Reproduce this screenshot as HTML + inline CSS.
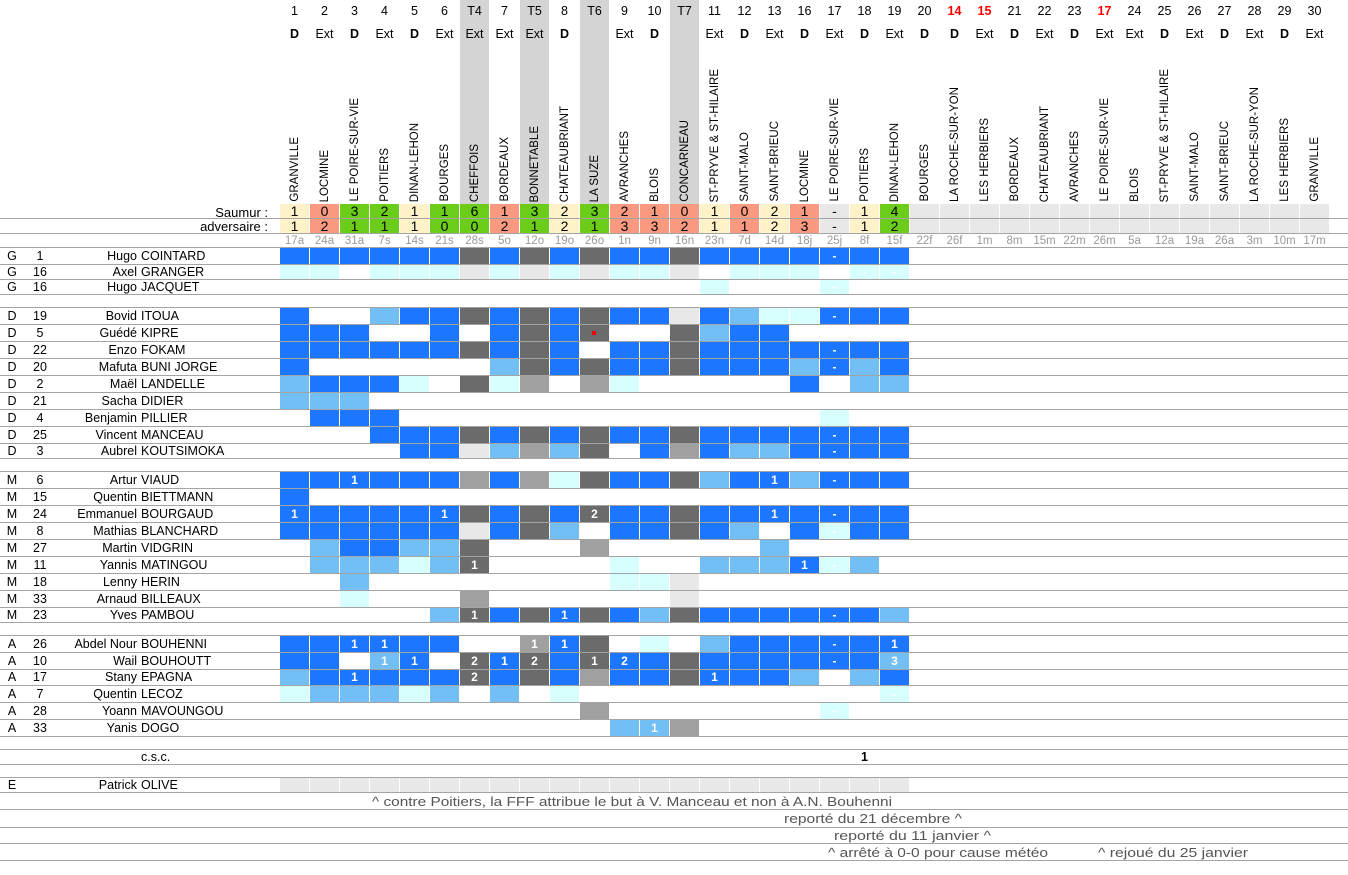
<!DOCTYPE html>
<html><head><meta charset="utf-8">
<style>
html,body{margin:0;padding:0;background:#fff;}
body{width:1348px;height:875px;position:relative;overflow:hidden;font-family:"Liberation Sans",Arial,sans-serif;font-size:12px;color:#000;}
.a{position:absolute;}
.hl{position:absolute;left:0;width:1348px;height:1px;background:#a4a4a4;}
.c{position:absolute;width:29px;text-align:center;color:#fff;font-weight:bold;font-size:12px;}
.v{position:absolute;writing-mode:vertical-rl;transform:rotate(180deg);white-space:nowrap;font-size:11.5px;line-height:12px;}
</style></head><body>
<script>
(function(){
var root=document.body;
function el(cls,css,txt){var d=document.createElement('div');d.className=cls;d.style.cssText=css;if(txt!==undefined)d.textContent=txt;root.appendChild(d);return d;}
var X0=280,W=30;
function cx(i){return X0+W*i;}
var nums=['1','2','3','4','5','6','T4','7','T5','8','T6','9','10','T7','11','12','13','16','17','18','19','20','14','15','21','22','23','17','24','25','26','27','28','29','30'];
var red={22:1,23:1,27:1};
var de=['D','Ext','D','Ext','D','Ext','Ext','Ext','Ext','D','','Ext','D','','Ext','D','Ext','D','Ext','D','Ext','D','D','Ext','D','Ext','D','Ext','Ext','D','Ext','D','Ext','D','Ext'];
var teams=['GRANVILLE','LOCMINE','LE POIRE-SUR-VIE','POITIERS','DINAN-LEHON','BOURGES','CHEFFOIS','BORDEAUX','BONNETABLE','CHATEAUBRIANT','LA SUZE','AVRANCHES','BLOIS','CONCARNEAU','ST-PRYVE & ST-HILAIRE','SAINT-MALO','SAINT-BRIEUC','LOCMINE','LE POIRE-SUR-VIE','POITIERS','DINAN-LEHON','BOURGES','LA ROCHE-SUR-YON','LES HERBIERS','BORDEAUX','CHATEAUBRIANT','AVRANCHES','LE POIRE-SUR-VIE','BLOIS','ST-PRYVE & ST-HILAIRE','SAINT-MALO','SAINT-BRIEUC','LA ROCHE-SUR-YON','LES HERBIERS','GRANVILLE'];
var dates=['17a','24a','31a','7s','14s','21s','28s','5o','12o','19o','26o','1n','9n','16n','23n','7d','14d','18j','25j','8f','15f','22f','26f','1m','8m','15m','22m','26m','5a','12a','19a','26a','3m','10m','17m'];
var S=['1','0','3','2','1','1','6','1','3','2','3','2','1','0','1','0','2','1','-','1','4'];
var A=['1','2','1','1','1','0','0','2','1','2','1','3','3','2','1','1','2','3','-','1','2'];
[6,8,10,13].forEach(function(i){el('a','left:'+cx(i)+'px;top:0;width:29px;height:204px;background:#d4d4d4;');});
for(var i=0;i<35;i++){
  el('a','left:'+cx(i)+'px;top:4px;width:29px;text-align:center;font-size:12.5px;'+(red[i]?'color:#f00;font-weight:bold;':''),nums[i]);
  el('a','left:'+cx(i)+'px;top:27px;width:29px;text-align:center;font-size:12.5px;'+(de[i]=='D'?'font-weight:bold;':''),de[i]);
  el('v','left:'+(cx(i)+9)+'px;bottom:'+(875-202)+'px;',teams[i]);
  el('a','left:'+cx(i)+'px;top:235px;width:29px;text-align:center;font-size:11.5px;color:#999;',dates[i]);
  var col;
  if(i<21){
    var s=S[i],a=A[i];
    if(s=='-')col='#e8e8e8';else if(+s>+a)col='#6ccc1a';else if(+s<+a)col='#f99a80';else col='#fff2c8';
  } else col='#e8e8e8';
  el('a','left:'+cx(i)+'px;top:204px;width:29px;height:14px;background:'+col+';text-align:center;font-size:14px;line-height:15px;',i<21?S[i]:'');
  el('a','left:'+cx(i)+'px;top:219px;width:29px;height:14px;background:'+col+';text-align:center;font-size:14px;line-height:15px;',i<21?A[i]:'');
}
el('a','right:'+(1348-268)+'px;top:205px;font-size:13px;','Saumur :');
el('a','right:'+(1348-268)+'px;top:219px;font-size:13px;','adversaire :');
[218,233,247].forEach(function(y){el('hl','top:'+y+'px;');});
var C={B:'#1c76ff',L:'#73bff5',C:'#d7fffe',D:'#6b6b6b',M:'#a0a0a0',G:'#e8e8e8'};
var rows=[
['G','1','Hugo','COINTARD',264,'BBBBBBDBDBDBBDBBBBBBB',{18:'-'}],
['G','16','Axel','GRANGER',279,'CC.CCCGCGCGCCG.CCC.CC',{19:'-',20:'-'}],
['G','16','Hugo','JACQUET',294,'..............C...C..',{18:'-'}],
[null,null,null,null,307],
['D','19','Bovid','ITOUA',324,'B..LBBDBDBDBBGBLCCBBB',{18:'-'}],
['D','5','Guédé','KIPRE',341,'BBB..B.BDBD..DLBB....',{}],
['D','22','Enzo','FOKAM',358,'BBBBBBDBDB.BBDBBBBBBB',{18:'-'}],
['D','20','Mafuta','BUNI JORGE',375,'B......LDBDBBDBBBLBLB',{18:'-'}],
['D','2','Maël','LANDELLE',392,'LBBBC.DCM.MC.....B.LL',{}],
['D','21','Sacha','DIDIER',409,'LLL..................',{}],
['D','4','Benjamin','PILLIER',426,'.BBB..............C..',{}],
['D','25','Vincent','MANCEAU',443,'...BBBDBDBDBBDBBBBBBB',{18:'-'}],
['D','3','Aubrel','KOUTSIMOKA',458,'....BBGLMLD.BMBLLBBBB',{18:'-'}],
[null,null,null,null,471],
['M','6','Artur','VIAUD',488,'BBBBBBMBMCDBBDLBBLBBB',{2:'1',16:'1',18:'-'}],
['M','15','Quentin','BIETTMANN',505,'B....................',{}],
['M','24','Emmanuel','BOURGAUD',522,'BBBBBBDBDBDBBDBBBBBBB',{0:'1',5:'1',10:'2',16:'1',18:'-'}],
['M','8','Mathias','BLANCHARD',539,'BBBBBBGBDL.BBDBL.BCBB',{18:'-'}],
['M','27','Martin','VIDGRIN',556,'.LBBLLD...M.....L....',{}],
['M','11','Yannis','MATINGOU',573,'.LLLCLD....C..LLLBCL.',{6:'1',17:'1',18:'-'}],
['M','18','Lenny','HERIN',590,'..L........CCG.......',{}],
['M','33','Arnaud','BILLEAUX',607,'..C...M......G.......',{}],
['M','23','Yves','PAMBOU',622,'.....LDBDBDBLDBBBBBBL',{6:'1',9:'1',18:'-'}],
[null,null,null,null,635],
['A','26','Abdel Nour','BOUHENNI',652,'BBBBBB..MBD.C.LBBBBBB',{2:'1',3:'1',8:'1',9:'1',18:'-',20:'1'}],
['A','10','Wail','BOUHOUTT',669,'BB.LB.DBDBDBBDBBBBBBL',{3:'1',4:'1',6:'2',7:'1',8:'2',10:'1',11:'2',18:'-',20:'3'}],
['A','17','Stany','EPAGNA',685,'LBBBBBDBDBMBBDBBBL.LB',{2:'1',6:'2',14:'1'}],
['A','7','Quentin','LECOZ',702,'CLLLCL.L.C..........C',{20:'-'}],
['A','28','Yoann','MAVOUNGOU',719,'..........M.......C..',{18:'-'}],
['A','33','Yanis','DOGO',736,'...........LLM.......',{12:'1'}],
[null,null,null,null,749],
[null,null,null,'c.s.c.',764],
[null,null,null,null,777],
['E','','Patrick','OLIVE',792,'GGGGGGGGGGGGGGGGGGGGG',{}],
[null,null,null,null,809],[null,null,null,null,827],[null,null,null,null,843],[null,null,null,null,860]
];
var prev=247;
rows.forEach(function(r){
  var top=prev+1,h=r[4]-top;
  el('hl','top:'+r[4]+'px;');
  var lt='top:'+top+'px;height:'+h+'px;line-height:'+h+'px;';
  if(r[0])el('a','left:5px;width:14px;text-align:center;font-size:12.5px;'+lt,r[0]);
  if(r[1])el('a','left:27px;width:26px;text-align:center;font-size:12.5px;'+lt,r[1]);
  if(r[2])el('a','right:'+(1348-137)+'px;font-size:12.5px;'+lt,r[2]);
  if(r[3])el('a','left:141px;font-size:12.5px;'+lt,r[3]);
  if(r[5]){
    for(var i=0;i<21;i++){
      var ch=r[5][i];var t=r[6][i]||'';
      if(ch=='.'&&!t)continue;
      var bg=ch=='.'?'transparent':C[ch];
      el('c','left:'+cx(i)+'px;'+lt+'background:'+bg+';',t);
    }
  }
  prev=r[4];
});
el('a','left:'+(cx(10)+12)+'px;top:331px;width:4px;height:4px;background:#e00;');
el('a','left:'+cx(19)+'px;top:750px;width:29px;height:14px;line-height:14px;text-align:center;font-weight:bold;font-size:12.5px;','1');
var svgns='http://www.w3.org/2000/svg';
var svg=document.createElementNS(svgns,'svg');
svg.setAttribute('width','1348');svg.setAttribute('height','875');
svg.style.cssText='position:absolute;left:0;top:0;';
function tx(x,y,len,s){var t=document.createElementNS(svgns,'text');t.setAttribute('x',x);t.setAttribute('y',y);t.setAttribute('textLength',len);t.setAttribute('lengthAdjust','spacingAndGlyphs');t.setAttribute('font-family','Liberation Sans, sans-serif');t.setAttribute('font-size','13');t.setAttribute('fill','#555');t.textContent=s;svg.appendChild(t);}
tx(372,806,520,'^ contre Poitiers, la FFF attribue le but à V. Manceau et non à A.N. Bouhenni');
tx(784,823,178,'reporté du 21 décembre ^');
tx(834,840,157,'reporté du 11 janvier ^');
tx(828,857,220,'^ arrêté à 0-0 pour cause météo');
tx(1098,857,150,'^ rejoué du 25 janvier');
root.appendChild(svg);
})();
</script>
</body></html>
